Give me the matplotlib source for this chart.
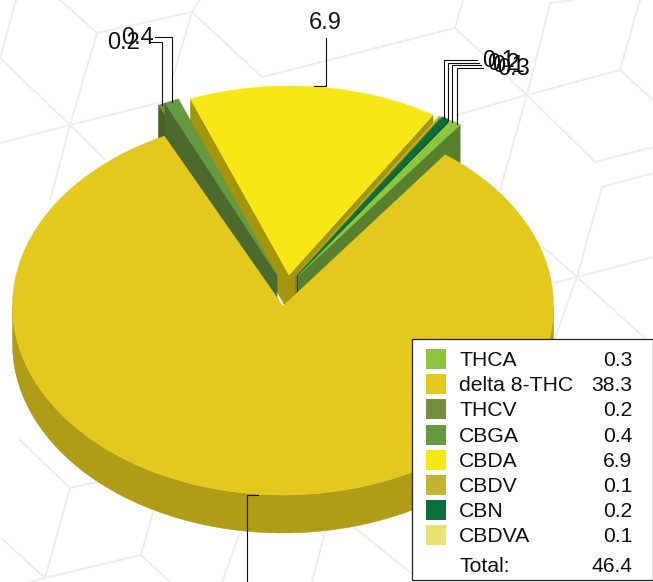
import numpy as np
import matplotlib
matplotlib.use("Agg")
import matplotlib.pyplot as plt
from matplotlib.patches import Polygon, Rectangle

plt.rcParams['font.family'] = ['Liberation Sans', 'DejaVu Sans']

names = ["THCA", "delta 8-THC", "THCV", "CBGA", "CBDA", "CBDV", "CBN", "CBDVA"]
# the two 0.1 slices are barely visible in the chart, so they are really about 0.05
values = [0.3, 38.3, 0.2, 0.4, 6.9, 0.05, 0.2, 0.05]
total = 46.4
top_colors = ["#8CC63F", "#E3C81E", "#768E3E", "#659A41", "#F7E715", "#BFB52E", "#0B6E3B", "#E9E372"]
side_colors = ["#58802E", "#B09C16", "#4B5F28", "#4B6A2C", "#A3950C", "#8A8420", "#084F2B", "#A8A350"]

# watermark behind the chart, hexagon pattern
bg_lines = [
    [(16, 0), (0, 58)], [(0, 58), (70, 125), (105, 160)], [(60, 0), (97, 33), (192, 12), (200, 0)],
    [(97, 33), (70, 125), (50, 200)], [(0, 143), (70, 125), (158, 103)],
    [(192, 12), (262, 77), (455, 28), (463, 0)], [(192, 12), (172, 80)],
    [(455, 28), (527, 95), (620, 70), (640, 0)], [(620, 70), (653, 100)],
    [(527, 95), (550, 3), (573, 0)], [(527, 95), (500, 190)], [(527, 95), (457, 115)],
    [(527, 95), (595, 162), (653, 147)], [(653, 173), (602, 187), (577, 277)],
    [(553, 283), (577, 277), (653, 257)], [(535, 240), (577, 277), (645, 338)], [(577, 277), (555, 338)],
    [(20, 440), (70, 488), (97, 482)], [(70, 488), (45, 578), (30, 582)],
    [(0, 537), (45, 578), (141, 555), (153, 512)], [(141, 555), (170, 582)],
    [(240, 532), (222, 582)], [(325, 532), (312, 582)], [(355, 528), (411, 573)],
]

cx, cy = 283, 306
rx, ry = 270.5, 189
depth = 38
start = 34.5
# how far each slice is pulled out, pixels
pull_x = [15, 0, -6, -6, 6, 12, 14, 14]
pull_y = [-30, 0, -31, -31, -31, -30, -30, -30]


def slice_points(t0, t1, ox, oy):
    t = np.radians(np.linspace(t0, t1, max(int(t1 - t0) * 2, 4)))
    return cx + ox + rx * np.sin(t), cy + oy - ry * np.cos(t)


def draw_slice(ax, t0, t1, ox, oy, top, side, main=False):
    xs, ys = slice_points(t0, t1, ox, oy)
    ax0, ay0 = cx + ox, cy + oy
    if not main:
        # cut faces that look toward the viewer
        if np.sin(np.radians(t0)) < 0:
            ax.add_patch(Polygon([(ax0, ay0), (xs[0], ys[0]), (xs[0], ys[0] + depth), (ax0, ay0 + depth)],
                                 fc=side, ec=side, lw=0.3))
        if np.sin(np.radians(t1)) > 0:
            ax.add_patch(Polygon([(ax0, ay0), (xs[-1], ys[-1]), (xs[-1], ys[-1] + depth), (ax0, ay0 + depth)],
                                 fc=side, ec=side, lw=0.3))
    lo, hi = max(t0, 90), min(t1, 270)
    if hi > lo:
        wx, wy = slice_points(lo, hi, ox, oy)
        pts = list(zip(wx, wy)) + list(zip(wx[::-1], wy[::-1] + depth))
        ax.add_patch(Polygon(pts, fc=side, ec=side, lw=0.3))
    ax.add_patch(Polygon([(ax0, ay0)] + list(zip(xs, ys)), fc=top, ec=top, lw=0.3))


def leader(ax, pts):
    ax.plot([p[0] for p in pts], [p[1] for p in pts], color="#111111", lw=0.8, solid_joinstyle="miter")


fig = plt.figure(figsize=(6.53, 5.82), dpi=100)
ax = fig.add_axes([0, 0, 1, 1])
ax.set_xlim(0, 653)
ax.set_ylim(582, 0)
ax.axis("off")

for seg in bg_lines:
    ax.plot([p[0] for p in seg], [p[1] for p in seg], color="#EDEFEF", lw=1.5, zorder=0)

angles = start + np.concatenate([[0], np.cumsum(values)]) / sum(values) * 360
spans = [(angles[i], angles[i + 1]) for i in range(len(values))]

# exploded slices first, the big one covers their lower edges
for i in [4, 2, 3, 5, 7, 6, 0]:
    t0, t1 = spans[i]
    t0, t1 = (t0 - 360, t1 - 360) if t0 > 180 else (t0, t1)
    draw_slice(ax, t0, t1, pull_x[i], pull_y[i], top_colors[i], side_colors[i])
draw_slice(ax, spans[1][0], spans[1][1], pull_x[1], pull_y[1], top_colors[1], side_colors[1], main=True)

# data labels with their leader lines
leader(ax, [(314, 86), (326, 86), (326, 38)])
ax.text(325, 23, f"{values[4]:.1f}", fontsize=17, ha="center", va="center", color="#111111")
leader(ax, [(172, 102), (172, 37), (155, 37)])
leader(ax, [(162, 105), (162, 42), (150, 42)])
ax.text(107, 43, f"{values[2]:.1f}", fontsize=17, ha="left", va="center", color="#111111")
ax.text(121, 38, f"{values[3]:.1f}", fontsize=17, ha="left", va="center", color="#111111")
right_idx = [5, 6, 7, 0]
right_x = [444, 447.5, 452, 457]
right_y = [60, 62.5, 65, 68]
right_end = [118, 120, 122, 124]
for k, i in enumerate(right_idx):
    leader(ax, [(right_x[k], right_end[k]), (right_x[k], right_y[k]), (477 + k * 2, right_y[k])])
    ax.text(482 + k * 5, right_y[k] + 1, f"{values[i]:.1f}", fontsize=17, ha="left", va="center", color="#111111")
leader(ax, [(258, 495), (247, 495), (247, 582)])

# legend box
ax.add_patch(Rectangle((411.5, 338.5), 241, 241.5, fc="white", ec="#222222", lw=0.9, zorder=5))
for i, name in enumerate(names):
    y = 359 + i * 25.2
    ax.add_patch(Rectangle((426, y - 10), 20, 20, fc=top_colors[i], ec="none", zorder=6))
    ax.text(459, y + 1.5, name, fontsize=15.2, ha="left", va="center", color="#111111", zorder=6)
    ax.text(632, y + 1.5, f"{values[i]:.1f}", fontsize=15.2, ha="right", va="center", color="#111111", zorder=6)
ax.text(459, 566, "Total:", fontsize=15.2, ha="left", va="center", color="#111111", zorder=6)
ax.text(632, 566, f"{total}", fontsize=15.2, ha="right", va="center", color="#111111", zorder=6)

fig.savefig("out.png", dpi=100)
